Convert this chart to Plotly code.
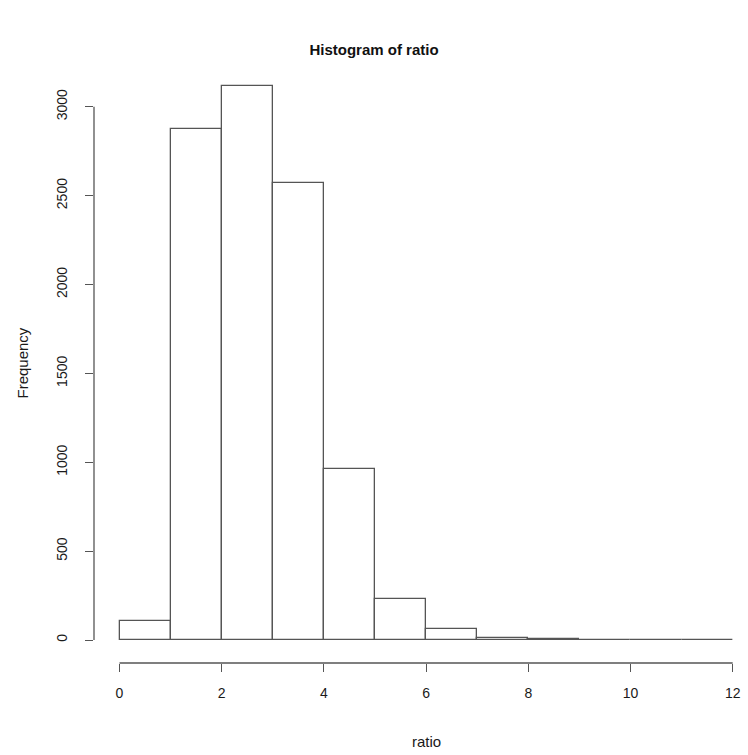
import plotly.graph_objects as go

# Histogram data
bin_left = [0, 1, 2, 3, 4, 5, 6, 7, 8, 9, 10, 11]
bin_width = 1
counts = [109, 2874, 3116, 2573, 964, 232, 64, 9, 8, 2, 1, 1]
x_ticks = [0, 2, 4, 6, 8, 10, 12]
y_ticks = [0, 500, 1000, 1500, 2000, 2500, 3000]
title_text = "Histogram of ratio"
x_label = "ratio"
y_label = "Frequency"

centers = [b + bin_width / 2 for b in bin_left]
line_col = "#555555"
font_family = "Liberation Sans, Arial, Helvetica, sans-serif"

fig = go.Figure()
fig.add_trace(go.Bar(
    x=centers, y=counts, width=[bin_width] * len(counts),
    marker=dict(color="white", line=dict(color=line_col, width=1.3)),
    hoverinfo="x+y", showlegend=False,
))

fig.update_layout(
    width=748, height=755,
    margin=dict(l=94, r=0, t=64, b=92),
    plot_bgcolor="white", paper_bgcolor="white",
    font=dict(family=font_family, size=14, color="#1a1a1a"),
    bargap=0,
    title=dict(text="<b>" + title_text + "</b>", x=0.5, xref="container",
               y=1 - 50 / 755, yref="container", xanchor="center", yanchor="middle",
               font=dict(size=15, color="#111111")),
    xaxis=dict(range=[-0.499, 12.30], tickvals=x_ticks, ticktext=[str(v) for v in x_ticks],
               ticks="outside", ticklen=8, tickwidth=1.3, tickcolor=line_col,
               showline=False, showgrid=False, zeroline=False,
               ticklabelstandoff=9, tickfont=dict(size=14)),
    yaxis=dict(range=[-129.4, 3241], tickvals=y_ticks, ticktext=[str(v) for v in y_ticks],
               ticks="outside", ticklen=8, tickwidth=1.3, tickcolor=line_col,
               showline=False, showgrid=False, zeroline=False, tickangle=-90,
               ticklabelstandoff=12, tickfont=dict(size=14)),
    shapes=[
        dict(type="line", xref="x", yref="paper", x0=x_ticks[0], x1=x_ticks[-1], y0=0, y1=0,
             line=dict(color=line_col, width=1.3)),
        dict(type="line", xref="paper", yref="y", x0=0, x1=0, y0=y_ticks[0], y1=y_ticks[-1],
             line=dict(color=line_col, width=1.3)),
    ],
    annotations=[
        dict(text=x_label, xref="paper", yref="paper", x=(0.499 + 6) / 12.799, y=0,
             xanchor="center", yanchor="middle", yshift=-78, showarrow=False,
             font=dict(size=15)),
        dict(text=y_label, xref="paper", yref="paper", x=0, y=0.5,
             xanchor="center", yanchor="middle", xshift=-72, textangle=-90,
             showarrow=False, font=dict(size=15)),
    ],
)

fig.write_html("out.html", config={"displayModeBar": False},
               post_script="document.body.style.margin='0';document.body.style.overflow='hidden';")
